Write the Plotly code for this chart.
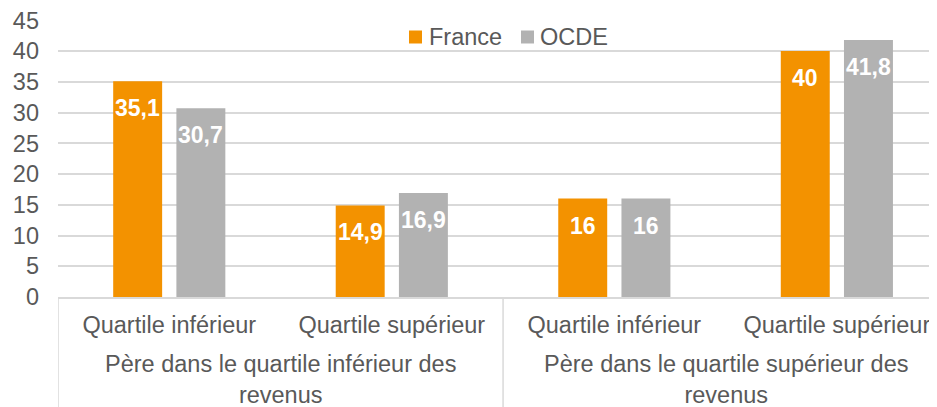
import plotly.graph_objects as go

categories = ["Quartile inférieur", "Quartile supérieur", "Quartile inférieur", "Quartile supérieur"]
groups = ["Père dans le quartile inférieur des<br>revenus", "Père dans le quartile supérieur des<br>revenus"]
series_names = ["France", "OCDE"]
france = [35.1, 14.9, 16, 40]
ocde = [30.7, 16.9, 16, 41.8]
y_ticks = [0, 5, 10, 15, 20, 25, 30, 35, 40, 45]

ORANGE = "#F39200"
GREY = "#B2B2B2"
TXT = "#595959"
GRID = "#D9D9D9"
FONT = "Liberation Sans, Arial, sans-serif"
FS = 23.5

# page body has an 8px margin: figure pixel (0,0) sits at window (8,8)
W = 929
H = 399
L = 50
T = 12
B = 110
R = 0
PH = H - T - B
PW = W - L - R


def py(pix):
    return (H - B - pix) / PH


def px(pix):
    return (pix - L) / PW


def fmt(v):
    return ("%g" % v).replace(".", ",")


xs = list(range(len(categories)))
BW = 0.22
offsets = [-0.252, 0.032]
colors = [ORANGE, GREY]
values = [france, ocde]

fig = go.Figure()
annotations = []
for name, vals, col, off in zip(series_names, values, colors, offsets):
    fig.add_trace(go.Bar(
        name=name, x=xs, y=vals, marker=dict(color=col, line=dict(width=0)),
        width=BW, offset=off, showlegend=False,
    ))
    for xv, v in zip(xs, vals):
        annotations.append(dict(
            x=xv + off + BW / 2, xref="x", y=v, yref="y", text=fmt(v),
            showarrow=False, xanchor="center", yanchor="middle", yshift=-27,
            font=dict(family=FONT, size=23, color="white", weight="bold"),
        ))

for gi, g in enumerate(groups):
    annotations.append(dict(
        x=gi * 2 + 0.5, xref="x", y=py(371), yref="paper", text=g,
        showarrow=False, xanchor="center", yanchor="middle",
        font=dict(family=FONT, size=FS, color=TXT), align="center",
    ))

shapes = []
for xv in [-0.5, 1.5, 3.5]:
    shapes.append(dict(type="line", xref="x", yref="paper", x0=xv, x1=xv,
                       y0=0, y1=py(H + 5), line=dict(color=GRID, width=1.5), layer="below"))

# legend (squares + labels), window coords minus body margin
leg_sq_x = [401, 513]
leg_txt_x = [419, 530]
leg_y = 29
SQ = 13
for name, col, sx, tx in zip(series_names, colors, leg_sq_x, leg_txt_x):
    shapes.append(dict(type="rect", xref="paper", yref="paper",
                       x0=px(sx), x1=px(sx + SQ), y0=py(leg_y + SQ / 2), y1=py(leg_y - SQ / 2),
                       fillcolor=col, line=dict(width=0)))
    annotations.append(dict(x=px(tx), xref="paper", y=py(leg_y), yref="paper", text=name,
                            showarrow=False, xanchor="left", yanchor="middle",
                            font=dict(family=FONT, size=FS, color=TXT)))

fig.update_layout(
    width=W, height=H,
    margin=dict(l=L, r=R, t=T, b=B, autoexpand=False),
    paper_bgcolor="white", plot_bgcolor="white",
    font=dict(family=FONT, size=FS, color=TXT),
    barmode="overlay",
    showlegend=False,
    xaxis=dict(range=[-0.5, 3.45], tickvals=xs, ticktext=categories, showgrid=False,
               zeroline=False, showline=True, linecolor=GRID, linewidth=1.5, ticks="",
               ticklabelstandoff=6, tickfont=dict(family=FONT, size=FS, color=TXT)),
    yaxis=dict(range=[0, 45.05], tickvals=y_ticks, showgrid=True, gridcolor=GRID, gridwidth=1.5,
               zeroline=False, showline=False, ticks="", ticklabelstandoff=18,
               ticklabeloverflow="allow",
               tickfont=dict(family=FONT, size=FS, color=TXT)),
    annotations=annotations, shapes=shapes,
)

fig.write_html("out.html")
